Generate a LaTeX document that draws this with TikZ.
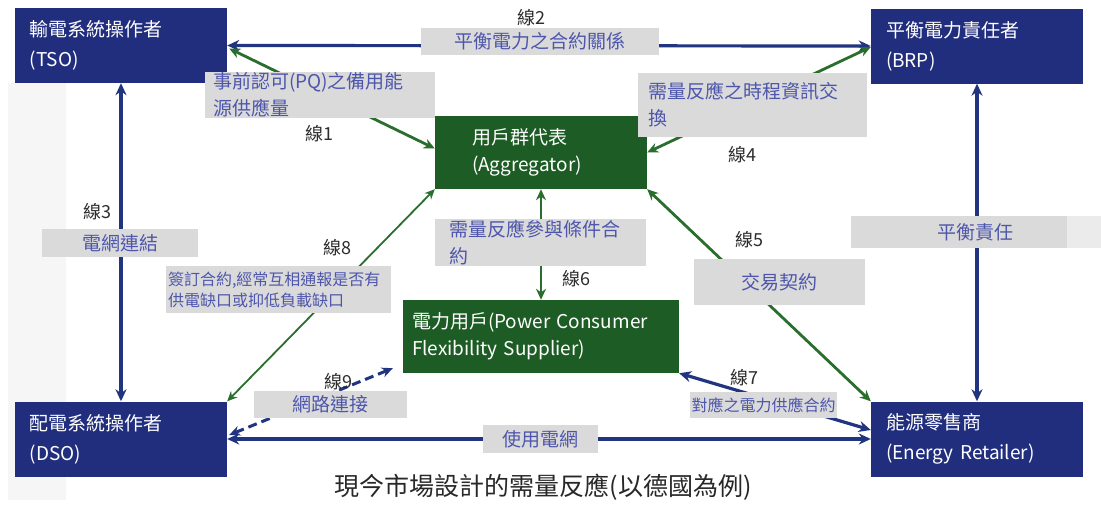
\documentclass[tikz,border=0pt]{standalone}
\usepackage{fontspec}
\setmainfont{Noto Sans CJK TC}
\usetikzlibrary{arrows.meta,calc}
\definecolor{navyfill}{RGB}{33,46,125}
\definecolor{navyline}{RGB}{33,52,128}
\definecolor{greenfill}{RGB}{29,92,36}
\definecolor{greenline}{RGB}{42,110,46}
\definecolor{lblfill}{RGB}{218,218,218}
\definecolor{lbltext}{RGB}{78,86,172}
\definecolor{captext}{RGB}{40,40,40}
\definecolor{linetext}{RGB}{45,45,45}
\definecolor{stripgray}{RGB}{246,246,246}
\tikzset{
  actor/.style={fill=navyfill, text=white, minimum width=212pt, minimum height=75pt,
    text width=182pt, inner xsep=15pt, inner ysep=0pt, align=left,
    font=\fontsize{19}{30}\selectfont},
  greenbox/.style={fill=greenfill, text=white, minimum height=73pt, inner ysep=0pt,
    align=left, font=\fontsize{19}{27}\selectfont},
  lbl/.style={fill=lblfill, text=lbltext, inner sep=0pt,
    font=\fontsize{19}{27}\selectfont},
  lblsmall/.style={fill=lblfill, text=lbltext, inner sep=0pt,
    font=\fontsize{16}{21}\selectfont},
  linelbl/.style={text=linetext, inner sep=0pt, font=\fontsize{18}{18}\selectfont},
  navyarr/.style={draw=navyline, line width=3.2pt,
    {Stealth[length=12pt,width=11pt]}-{Stealth[length=12pt,width=11pt]}},
  greenarr/.style={draw=greenline, line width=2.8pt,
    {Stealth[length=11pt,width=10pt]}-{Stealth[length=11pt,width=10pt]}},
  greenthin/.style={draw=greenline, line width=1.8pt,
    {Stealth[length=10pt,width=9pt]}-{Stealth[length=10pt,width=9pt]}},
  dasharr/.style={draw=navyline, line width=3pt, dash pattern=on 9pt off 5pt,
    {Stealth[length=11pt,width=10pt]}-{Stealth[length=11pt,width=10pt]}},
}
\begin{document}
\begin{tikzpicture}[x=1pt,y=-1pt]
\fill[white] (0,0) rectangle (1101,506);
\useasboundingbox (0,0) rectangle (1101,506);
\fill[stripgray] (8,83) rectangle (66,500);
\fill[stripgray!60!lblfill] (1067,216) rectangle (1101,248);

% main boxes
\node[actor] (tso) at (121,45.5) {輸電系統操作者\\(TSO)};
\node[actor] (brp) at (977,46) {平衡電力責任者\\(BRP)};
\node[actor] (dso) at (121,439) {配電系統操作者\\(DSO)};
\node[actor] (ret) at (977,439) {能源零售商\\(Energy Retailer)};
\node[greenbox, minimum width=212pt, text width=138pt, inner xsep=37pt] (agg) at (541,152.5) {用戶群代表\\(Aggregator)};
\node[greenbox, minimum width=276pt, text width=258pt, inner xsep=9pt] (cons) at (541,336.5) {電力用戶(Power Consumer\\Flexibility Supplier)};

% connectors
\draw[navyarr] (tso.east) -- (brp.west);
\draw[navyarr] (tso.south) -- (dso.north);
\draw[navyarr] (brp.south) -- (ret.north);
\draw[navyarr] (dso.east) -- (ret.west);
\draw[greenarr] ($(tso.east)+(2,3)$) -- ($(agg.west)+(0,-4)$);
\draw[greenarr] ($(brp.west)+(0,1)$) -- (agg.east);
\draw[greenarr] (agg.south east) -- (ret.north west);
\draw[greenthin] (agg.south west) -- (dso.north east);
\draw[greenarr] (agg.south) -- (cons.north);
\draw[navyarr] (cons.south east) -- ($(ret.west)+(0,-9)$);
\draw[dasharr] ($(dso.east)+(2,-4)$) -- ($(cons.south west)+(-10,-5)$);

% label boxes
\node[lbl, minimum width=238pt, minimum height=27pt] (l2) at (540,41.5) {平衡電力之合約關係};
\node[lbl, minimum width=230pt, minimum height=46pt, text width=214pt, align=left] (l1) at (320,95) {事前認可(PQ)之備用能\\源供應量};
\node[lbl, minimum width=229pt, minimum height=64pt, text width=209pt, align=left] (l4) at (752.5,105) {需量反應之時程資訊交\\換};
\node[lbl, minimum width=156pt, minimum height=28pt] (l3) at (120,243) {電網連結};
\node[lbl, minimum width=216pt, minimum height=32pt, text width=216pt, align=left] (lb) at (959,232) {\hspace*{86pt}平衡責任};
\node[lbl, minimum width=211pt, minimum height=47pt, text width=183pt, align=left] (l6) at (540.5,242.5) {需量反應參與條件合\\約};
\node[lblsmall, minimum width=225pt, minimum height=47pt, text width=221pt, align=left] (l8) at (278.5,289.5) {簽訂合約,經常互相通報是否有\\供電缺口或抑低負載缺口};
\node[lbl, minimum width=171pt, minimum height=46pt] (l5) at (779.5,282) {交易契約};
\node[lblsmall, minimum width=147pt, minimum height=26pt] (l7) at (763.5,405) {對應之電力供應合約};
\node[lbl, minimum width=153pt, minimum height=27pt] (l9) at (330.5,404.5) {網路連接};
\node[lbl, minimum width=115pt, minimum height=28pt] (lu) at (540.5,439) {使用電網};

% line names
\node[linelbl] (t1) at (319,134) {線1};
\node[linelbl] (t2) at (531,18) {線2};
\node[linelbl] (t3) at (97,212) {線3};
\node[linelbl] (t4) at (742,155) {線4};
\node[linelbl] (t5) at (749,240) {線5};
\node[linelbl] (t6) at (576,279) {線6};
\node[linelbl] (t7) at (744,378) {線7};
\node[linelbl] (t8) at (337,248) {線8};
\node[linelbl] (t9) at (338,382) {線9};

% caption
\node[text=captext, inner sep=0pt, font=\fontsize{25}{25}\selectfont] (cap) at (543,487) {現今市場設計的需量反應(以德國為例)};
\end{tikzpicture}
\end{document}
